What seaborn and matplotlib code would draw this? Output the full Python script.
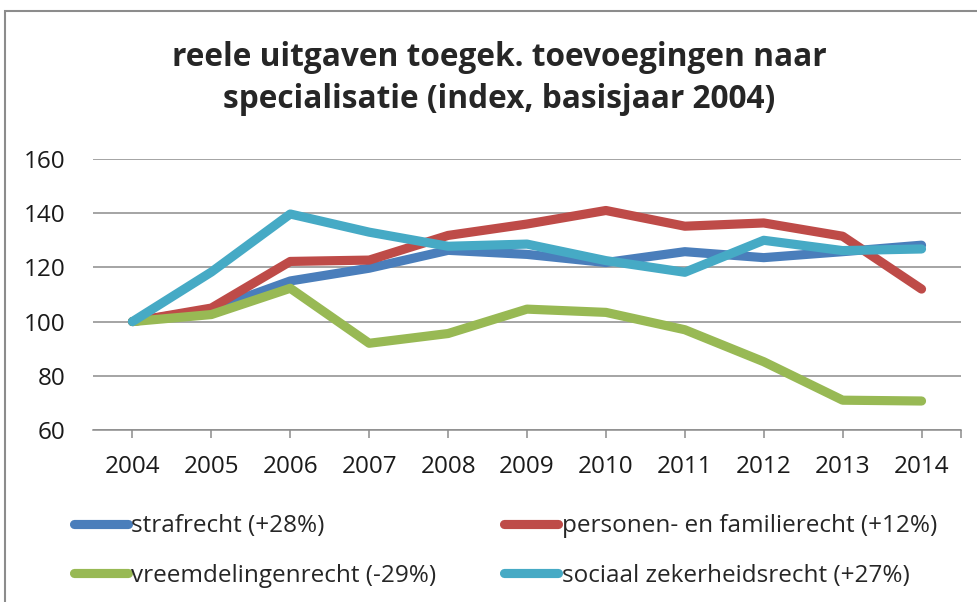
import pandas as pd
import matplotlib.pyplot as plt
import seaborn as sns
from matplotlib.patches import Rectangle
from matplotlib.ticker import FixedLocator

# Index values per year (2004 = 100)
years = [2004, 2005, 2006, 2007, 2008, 2009, 2010, 2011, 2012, 2013, 2014]
strafrecht = [100, 104.5, 115, 119.7, 126.3, 124.8, 121.8, 125.8, 123.6, 125.8, 128.2]
personen = [100, 105, 122.2, 122.7, 131.8, 136, 141, 135.2, 136.4, 131.5, 112]
vreemdelingen = [100, 102.6, 112.3, 92, 95.6, 104.6, 103.4, 97, 85.2, 71, 70.7]
sociaal = [100, 118.3, 139.7, 133, 127.8, 128.6, 122.5, 118.2, 130, 126.2, 126.8]

labels = ["strafrecht (+28%)", "personen- en familierecht (+12%)",
          "vreemdelingenrecht (-29%)", "sociaal zekerheidsrecht (+27%)"]
colors = ["#4A7EBB", "#BE4B48", "#98B954", "#46AAC5"]
yticks = [60, 80, 100, 120, 140, 160]

df = pd.DataFrame({"Year": years, labels[0]: strafrecht, labels[1]: personen,
                   labels[2]: vreemdelingen, labels[3]: sociaal})
df = df.melt(id_vars="Year", var_name="Reeks", value_name="Index")

sns.set_theme(style="white")
plt.rcParams['font.family'] = ['Open Sans', 'DejaVu Sans']

fig = plt.figure(figsize=(9.78, 6.02), dpi=100)
ax = fig.add_axes([93 / 978, 1 - 430 / 602, (961 - 93) / 978, (430 - 159) / 602])

sns.lineplot(data=df, x="Year", y="Index", hue="Reeks", hue_order=labels,
             palette=colors, linewidth=6.6, ax=ax, legend=False,
             solid_capstyle="round", solid_joinstyle="round")

ax.set_xlim(2003.5, 2014.5)
ax.set_ylim(60, 160)
ax.set_yticks(yticks)
ax.set_xticks(years)
ax.set_xticklabels([str(y) for y in years])
ax.xaxis.set_minor_locator(FixedLocator([2014.5]))
ax.yaxis.grid(True, color="#8C8C8C", linewidth=1.1)
ax.set_axisbelow(True)
for s in ["left", "right", "top"]:
    ax.spines[s].set_visible(False)
ax.spines["bottom"].set_color("#8C8C8C")
ax.spines["bottom"].set_linewidth(1.1)
ax.tick_params(axis="x", which="both", bottom=True, length=6, width=1.1,
               color="#8C8C8C", labelsize=17.5, pad=12, labelcolor="#1a1a1a")
ax.tick_params(axis="y", length=0, labelsize=17.5, pad=20, labelcolor="#1a1a1a")
ax.set_xlabel("")
ax.set_ylabel("")

# title, two centred lines
fig.text(499 / 978, 1 - 57 / 602, "reele uitgaven toegek. toevoegingen naar",
         ha="center", va="center", fontsize=22.8, fontweight="bold")
fig.text(499 / 978, 1 - 100 / 602, "specialisatie (index, basisjaar 2004)",
         ha="center", va="center", fontsize=22.8, fontweight="bold")

# legend, row-wise like the original
handles = [plt.Line2D([], [], color=c, linewidth=6.6, solid_capstyle="round") for c in colors]
order = [0, 2, 1, 3]
fig.legend([handles[i] for i in order], [labels[i] for i in order],
           ncol=2, loc="upper left", bbox_to_anchor=(62 / 978, 1 - 502 / 602),
           frameon=False, fontsize=17.5, handlelength=2.2, handletextpad=0.15,
           columnspacing=2.8, labelspacing=1.05, borderpad=0)

# chart border (top and left visible)
fig.patches.append(Rectangle((5 / 978, -0.1), 1.2, (1 - 11 / 602) + 0.1,
                             transform=fig.transFigure, fill=False,
                             edgecolor="#8C8C8C", linewidth=1.5))

fig.savefig("out.png", dpi=100)
